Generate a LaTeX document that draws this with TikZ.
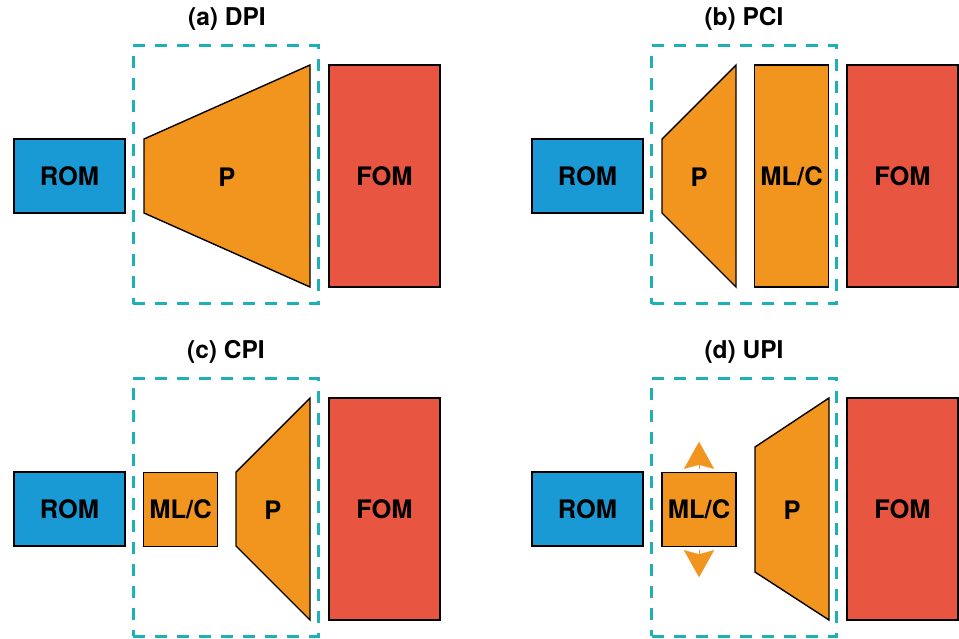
\documentclass[tikz,border=0pt]{standalone}
\usepackage{fontspec}
\setmainfont{TeX Gyre Heros}
\usetikzlibrary{arrows.meta,positioning,calc}
\definecolor{romblue}{HTML}{1A9AD5}
\definecolor{porange}{HTML}{F2951F}
\definecolor{fomred}{HTML}{E85641}
\definecolor{regteal}{HTML}{1DB0B6}
\tikzset{
  blk/.style={draw, line width=1.4pt, inner sep=0pt, align=center, font=\fontsize{25.5}{30}\selectfont\bfseries},
  rom/.style={blk, fill=romblue, minimum width=111pt, minimum height=74pt},
  fom/.style={blk, fill=fomred, minimum width=111pt, minimum height=222pt},
  mlc/.style={blk, fill=porange, minimum width=74pt, minimum height=74pt},
  ptrap/.style={draw, line width=1.4pt, fill=porange, line join=miter},
  plabel/.style={inner sep=0pt, font=\fontsize{25.5}{30}\selectfont\bfseries},
  region/.style={draw=regteal, line width=3pt, dash pattern=on 12pt off 10pt, minimum width=185pt, minimum height=258pt},
  ptitle/.style={inner sep=0pt, font=\fontsize{24.5}{29}\selectfont\bfseries},
  growarr/.style={-{Stealth[length=27pt,width=30pt,inset=4pt]}, draw=porange, line width=0.1pt}
}
\begin{document}
\begin{tikzpicture}[x=1pt,y=-1pt]
  \useasboundingbox (0,0) rectangle (959,638);

  % (a) DPI
  \node[ptitle] (ta) at (227,19) {(a) DPI};
  \node[region] (boxa) at (225.5,174.5) {};
  \node[rom] (roma) at (69.5,176) {ROM};
  \draw[ptrap] (144,139) -- (310,65) -- (310,287) -- (144,213) -- cycle;
  \node[plabel] (pa) at (227,177) {P};
  \node[fom] (foma) at (384.5,176) {FOM};

  % (b) PCI
  \node[ptitle] (tb) at (744,19) {(b) PCI};
  \node[region] (boxb) at (744,174.5) {};
  \node[rom] (romb) at (587.5,176) {ROM};
  \draw[ptrap] (662,139) -- (736,65) -- (736,287) -- (662,213) -- cycle;
  \node[plabel] (pb) at (699,177) {P};
  \node[mlc, minimum height=222pt] (mlcb) at (791.5,176) {ML/C};
  \node[fom] (fomb) at (902.5,176) {FOM};

  % (c) CPI
  \node[ptitle] (tc) at (226,352) {(c) CPI};
  \node[region] (boxc) at (225.5,507) {};
  \node[rom] (romc) at (69.5,509) {ROM};
  \node[mlc] (mlcc) at (180.5,509.5) {ML/C};
  \draw[ptrap] (236,472) -- (310,398) -- (310,620) -- (236,546) -- cycle;
  \node[plabel] (pc) at (273,510) {P};
  \node[fom] (fomc) at (384.5,509) {FOM};

  % (d) UPI
  \node[ptitle] (td) at (744,352) {(d) UPI};
  \node[region] (boxd) at (744,507) {};
  \node[rom] (romd) at (587.5,509) {ROM};
  \node[mlc] (mlcd) at (699,509.5) {ML/C};
  \draw[growarr] ([yshift=3pt]mlcd.north) -- ([yshift=30pt]mlcd.north);
  \draw[growarr] ([yshift=-3pt]mlcd.south) -- ([yshift=-30pt]mlcd.south);
  \draw[ptrap] (755,447) -- (829,398) -- (829,620) -- (755,572) -- cycle;
  \node[plabel] (pd) at (792,510) {P};
  \node[fom] (fomd) at (902.5,509) {FOM};
\end{tikzpicture}
\end{document}
